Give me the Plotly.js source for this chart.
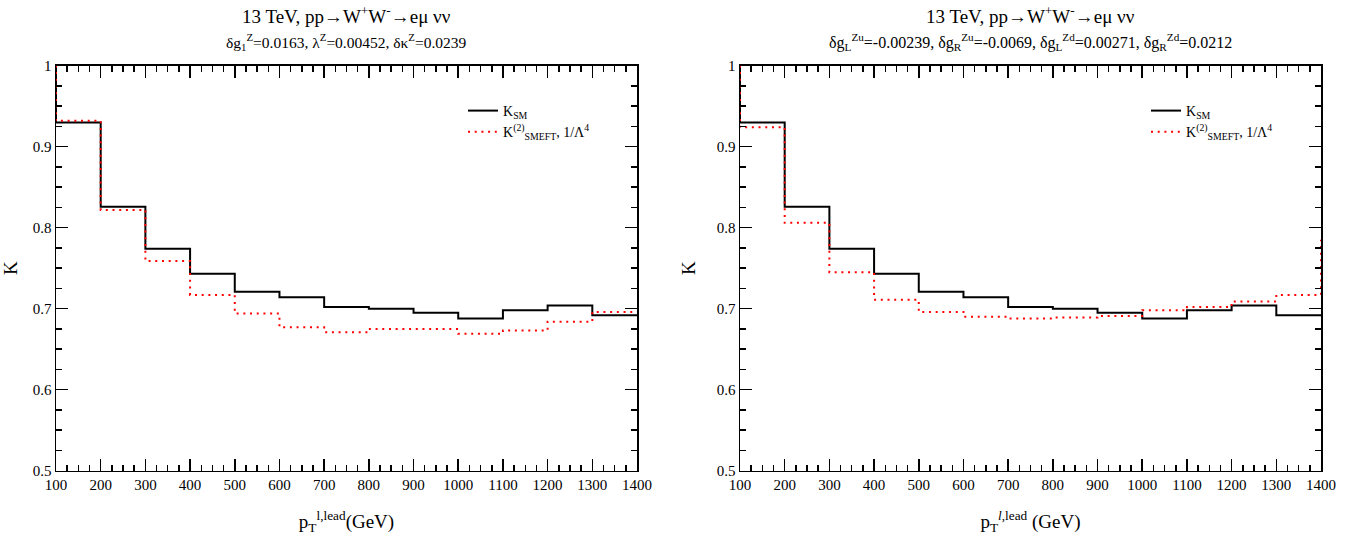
<!DOCTYPE html>
<html>
<head>
<meta charset="utf-8">
<script src="https://cdn.plot.ly/plotly-3.0.1.min.js"></script>
<style>html,body{margin:0;padding:0;background:#fff;}#chart{width:1364px;height:550px;}</style>
</head>
<body>
<div id="chart"></div>
<script>
// bin edges (GeV)
const binEdges = [100,200,300,400,500,600,700,800,900,1000,1100,1200,1300,1400];
// K_SM (same in both panels)
const kSM = [0.930,0.826,0.774,0.743,0.721,0.714,0.702,0.700,0.695,0.688,0.698,0.704,0.692];
// K^(2)_SMEFT, left panel (TGC)
const kSmeftLeft = [0.932,0.822,0.759,0.717,0.694,0.677,0.671,0.675,0.675,0.669,0.673,0.684,0.696];
// K^(2)_SMEFT, right panel (Z couplings)
const kSmeftRight = [0.924,0.806,0.745,0.711,0.696,0.690,0.688,0.689,0.691,0.698,0.702,0.709,0.717];
// values just outside the drawn range (underflow / overflow bins)
const underflowK = 1.05;
const overflowRight = 0.785;

const xTickVals = [100,200,300,400,500,600,700,800,900,1000,1100,1200,1300,1400];
const yTickVals = [0.5,0.6,0.7,0.8,0.9,1];
const yTickText = ['0.5','0.6','0.7','0.8','0.9','1'];

function stepX(){ return [binEdges[0]].concat(binEdges); }
function stepY(vals, pre, post){
  const y = [pre].concat(vals);
  y.push(vals[vals.length-1]);
  const x = stepX();
  if(post!==undefined){ x.push(binEdges[binEdges.length-1]); y.push(post); }
  return {x:x,y:y};
}

const serif = "'Liberation Serif', 'Times New Roman', Times, serif";
const smLeft = stepY(kSM, underflowK);
const efLeft = stepY(kSmeftLeft, underflowK);
const smRight = stepY(kSM, underflowK);
const efRight = stepY(kSmeftRight, underflowK, overflowRight);

const traces = [
  {x:smLeft.x, y:smLeft.y, xaxis:'x', yaxis:'y', mode:'lines', line:{shape:'hv', color:'#000', width:2}, name:'K<sub>SM</sub>', legend:'legend'},
  {x:efLeft.x, y:efLeft.y, xaxis:'x', yaxis:'y', mode:'lines', line:{shape:'hv', color:'#ff0000', width:2, dash:'2px,4.7px'}, name:'K<sup>(2)</sup><sub>SMEFT</sub>, 1/Λ<sup>4</sup>', legend:'legend'},
  {x:smRight.x, y:smRight.y, xaxis:'x2', yaxis:'y2', mode:'lines', line:{shape:'hv', color:'#000', width:2}, name:'K<sub>SM</sub>', legend:'legend2'},
  {x:efRight.x, y:efRight.y, xaxis:'x2', yaxis:'y2', mode:'lines', line:{shape:'hv', color:'#ff0000', width:2, dash:'2px,4.7px'}, name:'K<sup>(2)</sup><sub>SMEFT</sub>, 1/Λ<sup>4</sup>', legend:'legend2'}
];

function xax(domain, anchor, titleText){
  return {domain:domain, anchor:anchor, range:[100,1400], tickvals:xTickVals, ticktext:xTickVals.map(String),
    ticks:'inside', ticklen:12, tickwidth:1.5, tickcolor:'#000', showline:true, linecolor:'#000', linewidth:1.5, mirror:'ticks',
    showgrid:false, zeroline:false, tickfont:{family:serif, size:15, color:'#000'},
    minor:{dtick:25, tick0:100, ticks:'inside', ticklen:6, tickwidth:1.5, tickcolor:'#000', showgrid:false},
    title:{text:titleText, font:{family:serif, size:19, color:'#000'}, standoff:22}};
}
function yax(domain, anchor){
  return {domain:domain, anchor:anchor, range:[0.5,1], tickvals:yTickVals, ticktext:yTickText,
    ticks:'inside', ticklen:12, tickwidth:1.5, tickcolor:'#000', showline:true, linecolor:'#000', linewidth:1.5, mirror:'ticks',
    showgrid:false, zeroline:false, tickfont:{family:serif, size:15, color:'#000'},
    minor:{dtick:0.025, tick0:0.5, ticks:'inside', ticklen:6, tickwidth:1.5, tickcolor:'#000', showgrid:false},
    title:{text:'K', font:{family:serif, size:19, color:'#000'}, standoff:16}};
}

const yDom = [1-470.7/550, 1-65.7/550];
const layout = {
  width:1364, height:550, margin:{l:0,r:0,t:0,b:0}, paper_bgcolor:'#fff', plot_bgcolor:'#fff',
  font:{family:serif, color:'#000'},
  xaxis: xax([56/1364, 637/1364], 'y', 'p<sub>T</sub><sup>l,lead</sup>(GeV)'),
  yaxis: yax(yDom, 'x'),
  xaxis2: xax([740/1364, 1321/1364], 'y2', 'p<sub>T</sub><sup><i>l</i>,lead</sup> (GeV)'),
  yaxis2: yax(yDom, 'x2'),
  legend:{x:463/1364, y:1-95/550, xanchor:'left', yanchor:'top', bgcolor:'rgba(0,0,0,0)', font:{family:serif, size:14, color:'#000'}, tracegroupgap:0},
  legend2:{x:1146/1364, y:1-95/550, xanchor:'left', yanchor:'top', bgcolor:'rgba(0,0,0,0)', font:{family:serif, size:14, color:'#000'}, tracegroupgap:0},
  annotations:[
    {text:'13 TeV, pp→W<sup>+</sup>W<sup>-</sup>→eμ νν', x:346/1364, y:1-15/550, xref:'paper', yref:'paper', showarrow:false, xanchor:'center', yanchor:'middle', font:{family:serif, size:19, color:'#000'}},
    {text:'δg<sub>1</sub><sup>Z</sup>=0.0163, λ<sup>Z</sup>=0.00452, δκ<sup>Z</sup>=0.0239', x:346/1364, y:1-42/550, xref:'paper', yref:'paper', showarrow:false, xanchor:'center', yanchor:'middle', font:{family:serif, size:15.5, color:'#000'}},
    {text:'13 TeV, pp→W<sup>+</sup>W<sup>-</sup>→eμ νν', x:1030/1364, y:1-15/550, xref:'paper', yref:'paper', showarrow:false, xanchor:'center', yanchor:'middle', font:{family:serif, size:19, color:'#000'}},
    {text:'δg<sub>L</sub><sup>Zu</sup>=-0.00239, δg<sub>R</sub><sup>Zu</sup>=-0.0069, δg<sub>L</sub><sup>Zd</sup>=0.00271, δg<sub>R</sub><sup>Zd</sup>=0.0212', x:1030/1364, y:1-42/550, xref:'paper', yref:'paper', showarrow:false, xanchor:'center', yanchor:'middle', font:{family:serif, size:16, color:'#000'}}
  ]
};
Plotly.newPlot('chart', traces, layout, {staticPlot:true, displayModeBar:false});
</script>
</body>
</html>
